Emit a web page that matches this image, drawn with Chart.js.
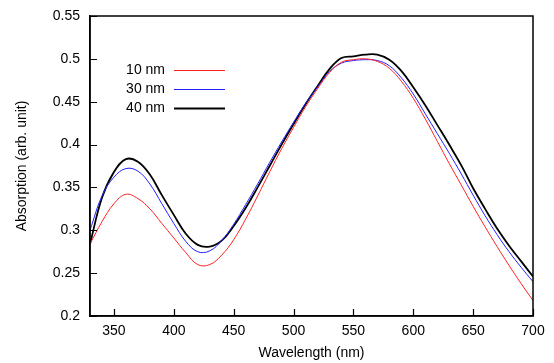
<!DOCTYPE html>
<html>
<head>
<meta charset="utf-8">
<script src="https://cdn.jsdelivr.net/npm/chart.js@4.4.1/dist/chart.umd.min.js"></script>
<style>
html,body{margin:0;padding:0;background:#fff;}
#wrap{width:554px;height:363px;position:relative;}
</style>
</head>
<body>
<div id="wrap"><canvas id="c" width="554" height="363"></canvas></div>
<script>
const wavelengths = [330,340,350,360,370,380,390,400,410,420,430,440,450,460,470,480,490,500,510,520,530,540,550,560,570,580,590,600,610,620,630,640,650,660,670,680,690,700];
const abs10nm = [0.284,0.310,0.331,0.342,0.337,0.325,0.308,0.291,0.274,0.260,0.260,0.271,0.289,0.313,0.340,0.368,0.395,0.420,0.444,0.465,0.484,0.496,0.499,0.500,0.497,0.489,0.474,0.454,0.430,0.404,0.378,0.353,0.328,0.304,0.281,0.259,0.238,0.218];
const abs30nm = [0.300,0.340,0.362,0.372,0.369,0.354,0.331,0.308,0.287,0.275,0.276,0.288,0.307,0.330,0.354,0.379,0.403,0.426,0.448,0.467,0.485,0.495,0.498,0.499,0.498,0.492,0.478,0.459,0.436,0.413,0.390,0.366,0.341,0.317,0.295,0.275,0.257,0.240];
const abs40nm = [0.284,0.338,0.368,0.383,0.380,0.365,0.341,0.318,0.296,0.283,0.281,0.288,0.305,0.326,0.350,0.375,0.400,0.424,0.447,0.468,0.488,0.501,0.503,0.505,0.505,0.499,0.486,0.467,0.446,0.423,0.400,0.376,0.349,0.325,0.302,0.282,0.264,0.246];
const seriesLabels = ['10 nm','30 nm','40 nm'];
const xTicks = [350,400,450,500,550,600,650,700];
const yTicks = [0.2,0.25,0.3,0.35,0.4,0.45,0.5,0.55];

const FONT = {family:'"Liberation Sans", Arial, sans-serif', size:14};

function pts(ys){ return wavelengths.map((w,i)=>({x:w,y:ys[i]})); }

const frame = {
  id:'frame',
  afterDraw(chart){
    const {ctx, chartArea:a} = chart;
    const sx = chart.scales.x, sy = chart.scales.y;
    ctx.save();
    ctx.strokeStyle = '#000';
    ctx.lineWidth = 1.5;
    ctx.strokeRect(a.left, a.top, a.right-a.left, a.bottom-a.top);
    // inward tick marks
    ctx.lineWidth = 1.2;
    ctx.beginPath();
    xTicks.forEach(v=>{ const px = Math.round(sx.getPixelForValue(v))+0.5; ctx.moveTo(px, a.bottom); ctx.lineTo(px, a.bottom-7); });
    yTicks.forEach(v=>{ const py = Math.round(sy.getPixelForValue(v))+0.5; ctx.moveTo(a.left, py); ctx.lineTo(a.left+7, py); });
    ctx.stroke();
    // legend: text right-aligned, sample line to the right
    ctx.font = '14px "Liberation Sans", Arial, sans-serif';
    ctx.textAlign = 'right';
    ctx.textBaseline = 'middle';
    const rows = [70.5, 89.5, 108.5];
    chart.data.datasets.forEach((ds,i)=>{
      ctx.fillStyle = '#000';
      ctx.fillText(ds.label, 165, rows[i]);
      ctx.strokeStyle = ds.borderColor;
      ctx.lineWidth = ds.borderWidth;
      ctx.beginPath();
      ctx.moveTo(174, rows[i]);
      ctx.lineTo(225, rows[i]);
      ctx.stroke();
    });
    ctx.restore();
  }
};

new Chart(document.getElementById('c'), {
  type:'line',
  data:{
    datasets:[
      {label:seriesLabels[0], data:pts(abs10nm), borderColor:'#ff2020', borderWidth:1, pointRadius:0, tension:0.4, fill:false},
      {label:seriesLabels[1], data:pts(abs30nm), borderColor:'#2020ff', borderWidth:1, pointRadius:0, tension:0.4, fill:false},
      {label:seriesLabels[2], data:pts(abs40nm), borderColor:'#000000', borderWidth:1.8, pointRadius:0, tension:0.4, fill:false}
    ]
  },
  options:{
    responsive:false,
    animation:false,
    layout:{padding:{left:0,right:21,top:16,bottom:0}},
    plugins:{legend:{display:false}, tooltip:{enabled:false}},
    scales:{
      x:{
        type:'linear', min:330, max:700,
        afterBuildTicks(s){ s.ticks = xTicks.map(v=>({value:v})); },
        afterFit(s){ s.height = 47; s.paddingLeft = 0; s.paddingRight = 0; },
        ticks:{color:'#000', font:FONT, padding:7, maxRotation:0, callback:v=>String(v)},
        grid:{display:false, drawOnChartArea:false, drawTicks:false},
        border:{display:true, color:'#000', width:1.5},
        title:{display:true, text:'Wavelength (nm)', color:'#000', font:FONT, padding:{top:0,bottom:1}}
      },
      y:{
        type:'linear', min:0.2, max:0.55,
        afterBuildTicks(s){ s.ticks = yTicks.map(v=>({value:v})); },
        afterFit(s){ s.width = 90; s.paddingTop = 0; s.paddingBottom = 0; },
        ticks:{color:'#000', font:FONT, padding:10, callback:v=>String(Number(v.toFixed(2)))},
        grid:{display:false, drawOnChartArea:false, drawTicks:false},
        border:{display:true, color:'#000', width:1.5},
        title:{display:true, text:'Absorption (arb. unit)', color:'#000', font:FONT, padding:{top:14,bottom:0}}
      }
    }
  },
  plugins:[frame]
});
</script>
</body>
</html>
